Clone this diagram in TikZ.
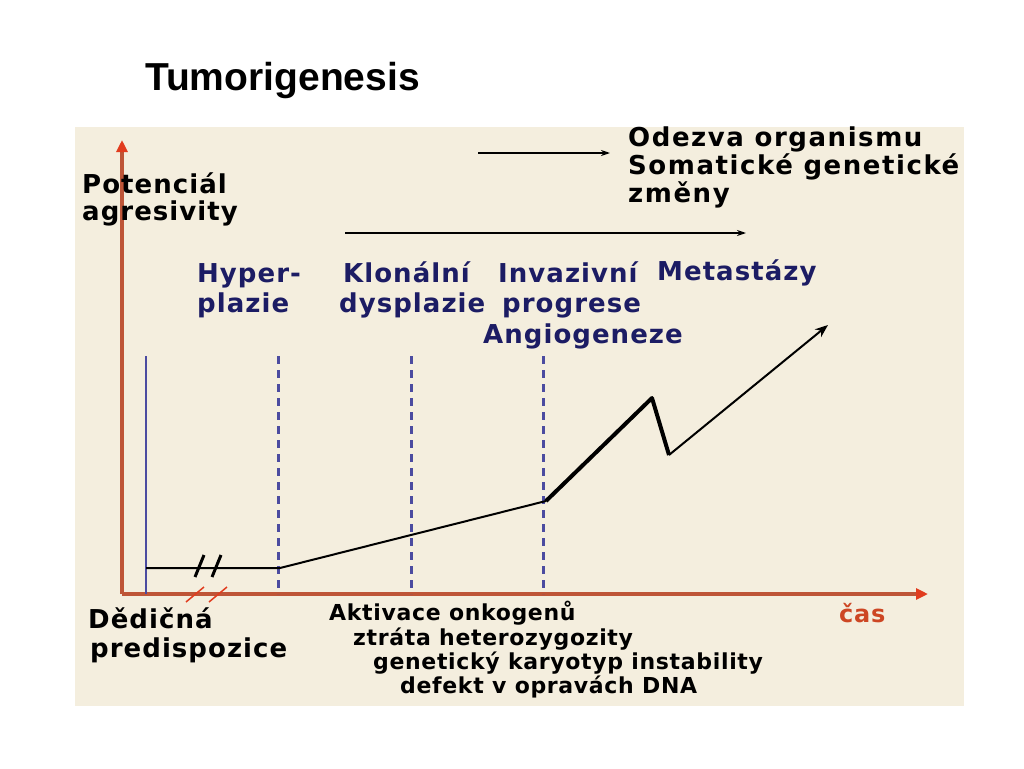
\documentclass[tikz,border=0pt]{standalone}
\usepackage{fontspec}
\setmainfont{DejaVu Sans}
\newfontfamily\titlefont{Liberation Sans}
\newfontfamily\wideA{DejaVu Sans}[LetterSpace=4]
\newfontfamily\wideB{DejaVu Sans}[LetterSpace=6]
\newfontfamily\wideC{DejaVu Sans}[LetterSpace=3]
\usetikzlibrary{arrows.meta}
\definecolor{bgbeige}{RGB}{244,238,222}
\definecolor{navytext}{RGB}{28,28,100}
\definecolor{axisbrown}{RGB}{190,85,55}
\definecolor{axishead}{RGB}{225,60,30}
\definecolor{dashblue}{RGB}{75,75,160}
\definecolor{casred}{RGB}{205,70,35}
\tikzset{
  lbl/.style={anchor=base west, inner sep=0pt, font=\wideA\fontsize{26}{30}\selectfont\bfseries},
  stage/.style={lbl, text=navytext},
  resp/.style={anchor=base west, inner sep=0pt, font=\wideB\fontsize{26}{30}\selectfont\bfseries},
  small/.style={anchor=base west, inner sep=0pt, font=\wideC\fontsize{22}{25}\selectfont\bfseries},
  axisline/.style={draw=axisbrown, line width=3.5pt, -{Triangle[length=12pt,width=11pt,fill=axishead,color=axishead]}},
  phase/.style={draw=dashblue, line width=3pt, dash pattern=on 8pt off 6pt},
  curve/.style={draw=black, line width=2pt},
  thick curve/.style={draw=black, line width=4pt, line join=round},
  toparrow/.style={draw=black, line width=1.5pt, -{Stealth[length=9pt,width=6pt]}},
}
\begin{document}
\begin{tikzpicture}[x=1pt,y=-1pt]
\useasboundingbox (0,0) rectangle (1024,768);
\fill[white] (0,0) rectangle (1024,768);
\fill[bgbeige] (75,127) rectangle (964,706);

\node[anchor=base west, inner sep=0pt, font=\titlefont\fontsize{39}{44}\selectfont\bfseries] (title) at (145,90) {Tumorigenesis};

% axes
\coordinate (origin) at (122,594);
\coordinate (ytip) at (122,140);
\coordinate (xtip) at (928,594);
\draw[axisline] (origin) -- (ytip);
\draw[axisline] (origin) -- (xtip);

% axis break marks
\coordinate (b1a) at (186,602); \coordinate (b1b) at (204,587);
\coordinate (b2a) at (209,602); \coordinate (b2b) at (227,587);
\draw[axishead, line width=1.5pt] (b1a) -- (b1b);
\draw[axishead, line width=1.5pt] (b2a) -- (b2b);

% inherited predisposition line
\coordinate (bl top) at (146,356);
\coordinate (bl bot) at (146,594);
\draw[draw=dashblue, line width=2.5pt] (bl top) -- (bl bot);

% dashed phase lines
\coordinate (d1t) at (278,356); \coordinate (d1b) at (278,594);
\coordinate (d2t) at (411,356); \coordinate (d2b) at (411,594);
\coordinate (d3t) at (543,356); \coordinate (d3b) at (543,594);
\draw[phase] (d1t) -- (d1b);
\draw[phase] (d2t) -- (d2b);
\draw[phase] (d3t) -- (d3b);

% curve
\coordinate (c0) at (146,568);
\coordinate (c1) at (280,568);
\coordinate (c2) at (546,501);
\coordinate (c3) at (652,398);
\coordinate (c4) at (669,455);
\coordinate (c5) at (828,325);
\draw[curve] (c0) -- (c1) -- (c2);
\draw[thick curve] (c2) -- (c3) -- (c4);
\draw[curve, -{Stealth[length=13pt,width=10pt]}] (c4) -- (c5);

% break marks on curve
\coordinate (k1a) at (195,577); \coordinate (k1b) at (204,555);
\coordinate (k2a) at (212,577); \coordinate (k2b) at (221,555);
\draw[black, line width=3pt] (k1a) -- (k1b);
\draw[black, line width=3pt] (k2a) -- (k2b);

% top arrows
\coordinate (t1a) at (478,153); \coordinate (t1b) at (610,153);
\coordinate (t2a) at (345,233); \coordinate (t2b) at (746,233);
\draw[toparrow] (t1a) -- (t1b);
\draw[toparrow] (t2a) -- (t2b);

% labels
\node[lbl] (pot1) at (82,193) {Potenciál};
\node[lbl] (pot2) at (82,220) {agresivity};
\node[resp] (od1) at (628,146) {Odezva organismu};
\node[resp] (od2) at (628,174) {Somatické genetické};
\node[resp] (od3) at (628,202) {změny};

\node[stage] (hyp1) at (197,282) {Hyper-};
\node[stage] (hyp2) at (197,312) {plazie};
\node[stage] (klo1) at (343,282) {Klonální};
\node[stage] (klo2) at (339,312) {dysplazie};
\node[stage] (inv1) at (498,282) {Invazivní};
\node[stage] (inv2) at (502,312) {progrese};
\node[stage] (ang) at (483,343) {Angiogeneze};
\node[stage] (met) at (657,280) {Metastázy};

\node[lbl] (ded1) at (88,628) {Dědičná};
\node[lbl] (ded2) at (90,657) {predispozice};

\node[small] (bt1) at (329,620) {Aktivace onkogenů};
\node[small] (bt2) at (353,645) {ztráta heterozygozity};
\node[small] (bt3) at (373,669) {genetický karyotyp instability};
\node[small] (bt4) at (400,693) {defekt v opravách DNA};

\node[small, text=casred, font=\wideC\fontsize{24}{28}\selectfont\bfseries] (cas) at (839,622) {čas};
\end{tikzpicture}
\end{document}
